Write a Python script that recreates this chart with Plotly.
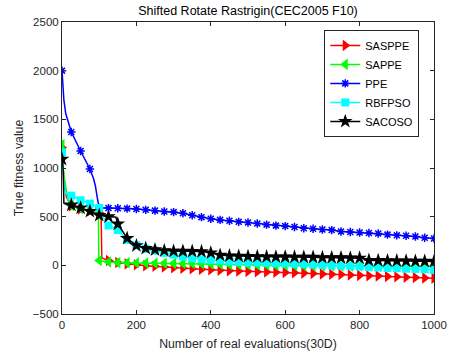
import plotly.graph_objects as go

# ---------------- data ----------------
EVALS = [0, 25, 50, 75, 100, 125, 150, 175, 200, 225, 250, 275, 300, 325, 350, 375, 400,
         425, 450, 475, 500, 525, 550, 575, 600, 625, 650, 675, 700, 725, 750, 775, 800,
         825, 850, 875, 900, 925, 950, 975, 1000]

SASPPE = [1210, 610, 580, 560, 540, 50, 30, 15, 5, -3, -10, -18, -25, -30, -35, -40, -45,
          -50, -55, -58, -62, -65, -68, -70, -73, -77, -80, -84, -88, -92, -95, -99, -103,
          -107, -110, -114, -118, -122, -125, -129, -132]
SASPPE_EXTRA_X = [3, 8, 12, 105, 107]
SASPPE_EXTRA_Y = [1000, 800, 700, 535, 75]

SAPPE = [1240, 615, 585, 565, 50, 35, 28, 26, 25, 24, 22, 21, 20, 19, 18, 17, 15,
         12, 10, 8, 6, 4, 3, 1, 0, -1, -3, -4, -5, -5, -6, -6, -7, -7, -8, -8, -9,
         -9, -10, -10, -10]
SAPPE_EXTRA_X = [3, 8, 12, 16, 98, 99]
SAPPE_EXTRA_Y = [1000, 850, 760, 680, 548, 55]

PPE = [2000, 1370, 1175, 990, 590, 588, 586, 583, 578, 570, 562, 553, 547, 535, 515, 495,
       478, 467, 458, 447, 440, 430, 418, 408, 403, 394, 381, 376, 368, 362, 348, 343,
       337, 332, 327, 316, 308, 304, 297, 283, 275]
PPE_EXTRA_X = [5, 10, 17, 85, 90, 95, 98]
PPE_EXTRA_Y = [1700, 1560, 1460, 890, 810, 690, 610]

RBFPSO = [1160, 716, 668, 634, 590, 410, 362, 260, 205, 170, 150, 128, 110, 90, 72, 62,
          55, 48, 40, 35, 30, 27, 25, 22, 20, 18, 15, 10, 5, 0, -3, -8, -12, -18, -22,
          -27, -30, -35, -38, -42, -45]
RBFPSO_EXTRA_X = [5, 10, 105]
RBFPSO_EXTRA_Y = [850, 740, 530]

SACOSO = [1090, 620, 590, 555, 514, 500, 425, 278, 202, 175, 161, 151, 146, 145, 144, 142,
          128, 105, 98, 95, 92, 90, 88, 87, 86, 85, 84, 83, 80, 79, 78, 77, 75, 52, 50,
          48, 47, 45, 43, 42, 40]
SACOSO_EXTRA_X = [3, 5, 12, 145, 810, 815]
SACOSO_EXTRA_Y = [1000, 640, 625, 495, 74, 53]

NAMES = ["SASPPE", "SAPPE", "PPE", "RBFPSO", "SACOSO"]
TITLE = "Shifted Rotate Rastrigin(CEC2005 F10)"
XLABEL = "Number of real evaluations(30D)"
YLABEL = "True fitness value"
XTICKS = [0, 200, 400, 600, 800, 1000]
YTICKS = [-500, 0, 500, 1000, 1500, 2000, 2500]

# ---------------- styles ----------------
STYLES = {
    "SASPPE": dict(color="#ff0000", symbol="triangle-right", size=10, lw=0),
    "SAPPE": dict(color="#00ff00", symbol="triangle-left", size=10, lw=0),
    "PPE": dict(color="#0000ff", symbol="asterisk-open", size=7, lw=1.5),
    "RBFPSO": dict(color="#00ffff", symbol="square", size=8, lw=0),
    "SACOSO": dict(color="#000000", symbol="star", size=11, lw=0),
}

SERIES = {
    "SASPPE": (SASPPE, SASPPE_EXTRA_X, SASPPE_EXTRA_Y),
    "SAPPE": (SAPPE, SAPPE_EXTRA_X, SAPPE_EXTRA_Y),
    "PPE": (PPE, PPE_EXTRA_X, PPE_EXTRA_Y),
    "RBFPSO": (RBFPSO, RBFPSO_EXTRA_X, RBFPSO_EXTRA_Y),
    "SACOSO": (SACOSO, SACOSO_EXTRA_X, SACOSO_EXTRA_Y),
}

fig = go.Figure()

for name in NAMES:
    vals, ex, ey = SERIES[name]
    st = STYLES[name]
    pts = sorted(list(zip(EVALS, vals)) + list(zip(ex, ey)))
    lx = [p[0] for p in pts]
    ly = [p[1] for p in pts]
    # line
    fig.add_trace(go.Scatter(x=lx, y=ly, mode="lines", showlegend=False,
                             line=dict(color=st["color"], width=1.5),
                             hoverinfo="skip"))
    # markers
    mline = dict(color=st["color"], width=st["lw"]) if st["lw"] else dict(width=0)
    fig.add_trace(go.Scatter(x=EVALS, y=vals, mode="markers", showlegend=False,
                             marker=dict(color=st["color"], symbol=st["symbol"],
                                         size=st["size"], line=mline)))
    # legend entry
    fig.add_trace(go.Scatter(x=[None], y=[None], mode="lines+markers", name=name,
                             line=dict(color=st["color"], width=1.5),
                             marker=dict(color=st["color"], symbol=st["symbol"],
                                         size=st["size"], line=mline)))

axis_common = dict(showgrid=False, zeroline=False, showline=True, linecolor="#262626",
                   linewidth=1, mirror="ticks", ticks="inside", ticklen=4,
                   tickcolor="#262626", tickfont=dict(size=11.5, color="#262626"),
                   automargin=False)

fig.update_layout(
    width=458, height=355,
    margin=dict(l=62, r=24, t=22, b=41),
    paper_bgcolor="white", plot_bgcolor="white",
    font=dict(family="Liberation Sans, Arial, sans-serif", size=11, color="#262626"),
    title=dict(text=TITLE, x=(62 + 434) / 2 / 458, xanchor="center",
               y=1 - 11 / 355, yanchor="middle", yref="container",
               font=dict(size=12.5, color="#000000")),
    xaxis=dict(range=[0, 1000], tickvals=XTICKS,
               title=dict(text=XLABEL, standoff=9, font=dict(size=12.3)), **axis_common),
    yaxis=dict(range=[-500, 2500], tickvals=YTICKS,
               title=dict(text=YLABEL, standoff=6, font=dict(size=12.3)), **axis_common),
    legend=dict(x=0.705, y=0.973, xanchor="left", yanchor="top",
                bgcolor="white", bordercolor="#262626", borderwidth=1,
                font=dict(size=11, color="#000000"), tracegroupgap=0,
                itemwidth=30),
)

fig.write_html("out.html")
